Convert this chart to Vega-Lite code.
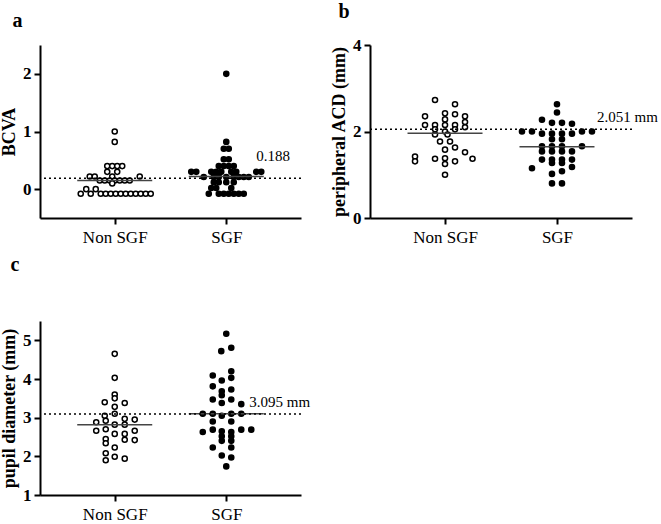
{
  "$schema": "https://vega.github.io/schema/vega-lite/v6.json",
  "padding": {"left": 0, "top": 2, "right": 0, "bottom": 0},
  "background": "white",
  "config": {
    "view": {"stroke": null},
    "font": "Liberation Serif",
    "axis": {
      "grid": false, "domainColor": "black", "domainWidth": 2, "tickColor": "black", "tickWidth": 2, "tickSize": 6,
      "labelFont": "Liberation Serif", "labelFontSize": 17, "labelColor": "black",
      "titleFont": "Liberation Serif", "titleFontSize": 18, "titleColor": "black", "titleFontWeight": "bold"
    },
    "axisX": {"labelAngle": 0, "labelPadding": 5, "title": null, "labelFontWeight": "normal"},
    "axisY": {"labelFontWeight": "bold", "labelPadding": 3, "titlePadding": 4, "format": "d"},
    "title": {"font": "Liberation Serif", "fontSize": 20, "fontWeight": "bold", "anchor": "start", "frame": "bounds", "color": "black"}
  },
  "vconcat": [
    {
      "hconcat": [
        {
          "title": {"text": "a", "dx": 12, "offset": 14},
          "width": 261, "height": 173,
          "layer": [
            {
              "data": {"values": [
                {"group": "Non SGF", "value": 1.0, "slot": 0}, {"group": "Non SGF", "value": 0.82, "slot": 0},
                {"group": "Non SGF", "value": 0.4, "slot": -1.5}, {"group": "Non SGF", "value": 0.4, "slot": -0.5}, {"group": "Non SGF", "value": 0.4, "slot": 0.5}, {"group": "Non SGF", "value": 0.4, "slot": 1.5},
                {"group": "Non SGF", "value": 0.3, "slot": -1.5}, {"group": "Non SGF", "value": 0.3, "slot": 0.5},
                {"group": "Non SGF", "value": 0.22, "slot": -5}, {"group": "Non SGF", "value": 0.22, "slot": -4}, {"group": "Non SGF", "value": 0.22, "slot": -0.5}, {"group": "Non SGF", "value": 0.22, "slot": 5},
                {"group": "Non SGF", "value": 0.15, "slot": -3}, {"group": "Non SGF", "value": 0.15, "slot": -2}, {"group": "Non SGF", "value": 0.15, "slot": -1}, {"group": "Non SGF", "value": 0.15, "slot": 0}, {"group": "Non SGF", "value": 0.15, "slot": 1}, {"group": "Non SGF", "value": 0.15, "slot": 2}, {"group": "Non SGF", "value": 0.15, "slot": 3},
                {"group": "Non SGF", "value": 0.1, "slot": -0.5},
                {"group": "Non SGF", "value": 0.0, "slot": -5.7}, {"group": "Non SGF", "value": 0.0, "slot": -3.8},
                {"group": "Non SGF", "value": -0.08, "slot": -6.8}, {"group": "Non SGF", "value": -0.08, "slot": -4.8}, {"group": "Non SGF", "value": -0.08, "slot": -2.8}, {"group": "Non SGF", "value": -0.08, "slot": -1.8}, {"group": "Non SGF", "value": -0.08, "slot": -0.8}, {"group": "Non SGF", "value": -0.08, "slot": 0.2}, {"group": "Non SGF", "value": -0.08, "slot": 1.2}, {"group": "Non SGF", "value": -0.08, "slot": 2.2}, {"group": "Non SGF", "value": -0.08, "slot": 3.2}, {"group": "Non SGF", "value": -0.08, "slot": 4.2}, {"group": "Non SGF", "value": -0.08, "slot": 5.2}, {"group": "Non SGF", "value": -0.08, "slot": 6.2}, {"group": "Non SGF", "value": -0.08, "slot": 7.2},
                {"group": "SGF", "value": 2.0, "slot": 0}, {"group": "SGF", "value": 0.82, "slot": 0},
                {"group": "SGF", "value": 0.7, "slot": -0.5}, {"group": "SGF", "value": 0.7, "slot": 0.5},
                {"group": "SGF", "value": 0.52, "slot": -0.5}, {"group": "SGF", "value": 0.52, "slot": 0.5},
                {"group": "SGF", "value": 0.4, "slot": -1.5}, {"group": "SGF", "value": 0.4, "slot": -0.5}, {"group": "SGF", "value": 0.4, "slot": 0.5}, {"group": "SGF", "value": 0.4, "slot": 1.5},
                {"group": "SGF", "value": 0.3, "slot": -7}, {"group": "SGF", "value": 0.3, "slot": -6}, {"group": "SGF", "value": 0.3, "slot": -3}, {"group": "SGF", "value": 0.3, "slot": -2}, {"group": "SGF", "value": 0.3, "slot": -1}, {"group": "SGF", "value": 0.3, "slot": 1}, {"group": "SGF", "value": 0.3, "slot": 2}, {"group": "SGF", "value": 0.3, "slot": 6}, {"group": "SGF", "value": 0.3, "slot": 7},
                {"group": "SGF", "value": 0.21, "slot": -4.5}, {"group": "SGF", "value": 0.21, "slot": -2.5}, {"group": "SGF", "value": 0.21, "slot": -1.5}, {"group": "SGF", "value": 0.21, "slot": 0}, {"group": "SGF", "value": 0.21, "slot": 1.5}, {"group": "SGF", "value": 0.21, "slot": 2.5}, {"group": "SGF", "value": 0.21, "slot": 3.5}, {"group": "SGF", "value": 0.21, "slot": 4.5},
                {"group": "SGF", "value": 0.12, "slot": -2.5}, {"group": "SGF", "value": 0.12, "slot": -1.5}, {"group": "SGF", "value": 0.12, "slot": 0}, {"group": "SGF", "value": 0.12, "slot": 1.5},
                {"group": "SGF", "value": 0.02, "slot": -3}, {"group": "SGF", "value": 0.02, "slot": -2}, {"group": "SGF", "value": 0.02, "slot": 1},
                {"group": "SGF", "value": -0.08, "slot": -3.5}, {"group": "SGF", "value": -0.08, "slot": -1.5}, {"group": "SGF", "value": -0.08, "slot": -0.5}, {"group": "SGF", "value": -0.08, "slot": 0.5}, {"group": "SGF", "value": -0.08, "slot": 1.5}, {"group": "SGF", "value": -0.08, "slot": 2.5}, {"group": "SGF", "value": -0.08, "slot": 3.5}
              ]},
              "mark": {"type": "circle", "size": 26, "stroke": "black", "strokeWidth": 1.5, "opacity": 1},
              "encoding": {
                "x": {"field": "group", "type": "nominal", "scale": {"type": "point", "domain": ["Non SGF", "SGF"], "padding": 0.67}},
                "xOffset": {"field": "slot", "type": "quantitative", "scale": {"domain": [-10, 10], "range": [-50, 50]}},
                "y": {"field": "value", "type": "quantitative", "title": "BCVA", "scale": {"domain": [-0.5, 2.5], "nice": false, "zero": false}, "axis": {"values": [0, 1, 2]}},
                "fill": {"field": "group", "type": "nominal", "scale": {"domain": ["Non SGF", "SGF"], "range": ["white", "black"]}, "legend": null}
              }
            },
            {
              "data": {"values": [{"group": "Non SGF", "median": 0.15}, {"group": "SGF", "median": 0.22}]},
              "mark": {"type": "tick", "size": 75, "thickness": 1.5, "color": "#444", "opacity": 1},
              "encoding": {"x": {"field": "group", "type": "nominal"}, "y": {"field": "median", "type": "quantitative"}}
            },
            {
              "data": {"values": [{"group": "SGF", "cut": 0.188, "label": "0.188"}]},
              "layer": [
                {"mark": {"type": "rule", "strokeDash": [2, 3], "strokeWidth": 1.5, "color": "black"}, "encoding": {"y": {"field": "cut", "type": "quantitative"}}},
                {"mark": {"type": "text", "align": "left", "baseline": "alphabetic", "dx": 30, "dy": -17, "fontSize": 15, "font": "Liberation Serif", "color": "black"},
                 "encoding": {"x": {"field": "group", "type": "nominal"}, "y": {"field": "cut", "type": "quantitative"}, "text": {"field": "label"}}}
              ]
            }
          ]
        },
        {
          "title": {"text": "b", "dx": 8, "offset": 14},
          "width": 262, "height": 173,
          "layer": [
            {
              "data": {"values": [
                {"group": "Non SGF", "value": 2.73, "slot": -2}, {"group": "Non SGF", "value": 2.63, "slot": 2},
                {"group": "Non SGF", "value": 2.42, "slot": 0}, {"group": "Non SGF", "value": 2.4, "slot": 2}, {"group": "Non SGF", "value": 2.35, "slot": -4}, {"group": "Non SGF", "value": 2.35, "slot": 4},
                {"group": "Non SGF", "value": 2.28, "slot": 0}, {"group": "Non SGF", "value": 2.22, "slot": 4},
                {"group": "Non SGF", "value": 2.15, "slot": -4}, {"group": "Non SGF", "value": 2.15, "slot": -2}, {"group": "Non SGF", "value": 2.15, "slot": 0}, {"group": "Non SGF", "value": 2.15, "slot": 2}, {"group": "Non SGF", "value": 2.1, "slot": 4},
                {"group": "Non SGF", "value": 2.05, "slot": -2}, {"group": "Non SGF", "value": 2.05, "slot": 2}, {"group": "Non SGF", "value": 2.0, "slot": 0},
                {"group": "Non SGF", "value": 1.93, "slot": -2}, {"group": "Non SGF", "value": 1.93, "slot": 0.5},
                {"group": "Non SGF", "value": 1.77, "slot": -1}, {"group": "Non SGF", "value": 1.77, "slot": 1},
                {"group": "Non SGF", "value": 1.63, "slot": 2}, {"group": "Non SGF", "value": 1.58, "slot": 0}, {"group": "Non SGF", "value": 1.52, "slot": 4},
                {"group": "Non SGF", "value": 1.42, "slot": -6}, {"group": "Non SGF", "value": 1.31, "slot": -6},
                {"group": "Non SGF", "value": 1.37, "slot": -2}, {"group": "Non SGF", "value": 1.38, "slot": 0}, {"group": "Non SGF", "value": 1.31, "slot": 2}, {"group": "Non SGF", "value": 1.37, "slot": 5.5},
                {"group": "Non SGF", "value": 1.25, "slot": 0}, {"group": "Non SGF", "value": 1.0, "slot": 0},
                {"group": "SGF", "value": 2.63, "slot": 0}, {"group": "SGF", "value": 2.44, "slot": 0}, {"group": "SGF", "value": 2.27, "slot": -3},
                {"group": "SGF", "value": 2.2, "slot": -1}, {"group": "SGF", "value": 2.2, "slot": 1}, {"group": "SGF", "value": 2.18, "slot": 3},
                {"group": "SGF", "value": 2.0, "slot": -7}, {"group": "SGF", "value": 2.0, "slot": -5}, {"group": "SGF", "value": 2.0, "slot": 5}, {"group": "SGF", "value": 2.0, "slot": 7},
                {"group": "SGF", "value": 1.95, "slot": -3}, {"group": "SGF", "value": 1.95, "slot": -1}, {"group": "SGF", "value": 1.95, "slot": 1}, {"group": "SGF", "value": 1.95, "slot": 3},
                {"group": "SGF", "value": 1.82, "slot": -1}, {"group": "SGF", "value": 1.82, "slot": 1},
                {"group": "SGF", "value": 1.66, "slot": -3}, {"group": "SGF", "value": 1.66, "slot": -1}, {"group": "SGF", "value": 1.66, "slot": 1}, {"group": "SGF", "value": 1.66, "slot": 5},
                {"group": "SGF", "value": 1.54, "slot": -3}, {"group": "SGF", "value": 1.54, "slot": -1}, {"group": "SGF", "value": 1.54, "slot": 1}, {"group": "SGF", "value": 1.54, "slot": 3},
                {"group": "SGF", "value": 1.35, "slot": -3}, {"group": "SGF", "value": 1.35, "slot": -1}, {"group": "SGF", "value": 1.35, "slot": 1}, {"group": "SGF", "value": 1.35, "slot": 3},
                {"group": "SGF", "value": 1.27, "slot": -1}, {"group": "SGF", "value": 1.27, "slot": 1},
                {"group": "SGF", "value": 1.15, "slot": -5}, {"group": "SGF", "value": 1.18, "slot": 3},
                {"group": "SGF", "value": 1.02, "slot": -1}, {"group": "SGF", "value": 1.08, "slot": 1},
                {"group": "SGF", "value": 0.8, "slot": -1}, {"group": "SGF", "value": 0.8, "slot": 1}
              ]},
              "mark": {"type": "circle", "size": 26, "stroke": "black", "strokeWidth": 1.5, "opacity": 1},
              "encoding": {
                "x": {"field": "group", "type": "nominal", "scale": {"type": "point", "domain": ["Non SGF", "SGF"], "padding": 0.67}},
                "xOffset": {"field": "slot", "type": "quantitative", "scale": {"domain": [-10, 10], "range": [-50, 50]}},
                "y": {"field": "value", "type": "quantitative", "title": "peripheral ACD (mm)", "scale": {"domain": [0, 4], "nice": false}, "axis": {"values": [0, 2, 4]}},
                "fill": {"field": "group", "type": "nominal", "scale": {"domain": ["Non SGF", "SGF"], "range": ["white", "black"]}, "legend": null}
              }
            },
            {
              "data": {"values": [{"group": "Non SGF", "median": 1.96}, {"group": "SGF", "median": 1.65}]},
              "mark": {"type": "tick", "size": 75, "thickness": 1.5, "color": "#444", "opacity": 1},
              "encoding": {"x": {"field": "group", "type": "nominal"}, "y": {"field": "median", "type": "quantitative"}}
            },
            {
              "data": {"values": [{"group": "SGF", "cut": 2.051, "label": "2.051 mm"}]},
              "layer": [
                {"mark": {"type": "rule", "strokeDash": [2, 3], "strokeWidth": 1.5, "color": "black"}, "encoding": {"y": {"field": "cut", "type": "quantitative"}}},
                {"mark": {"type": "text", "align": "left", "baseline": "alphabetic", "dx": 40, "dy": -7, "fontSize": 15, "font": "Liberation Serif", "color": "black"},
                 "encoding": {"x": {"field": "group", "type": "nominal"}, "y": {"field": "cut", "type": "quantitative"}, "text": {"field": "label"}}}
              ]
            }
          ]
        }
      ],
      "spacing": 28
    },
    {
      "title": {"text": "c", "dx": 10, "offset": 46},
      "width": 261, "height": 174,
      "layer": [
        {
          "data": {"values": [
            {"group": "Non SGF", "value": 4.65, "slot": 0}, {"group": "Non SGF", "value": 4.03, "slot": 0},
            {"group": "Non SGF", "value": 3.6, "slot": 0}, {"group": "Non SGF", "value": 3.5, "slot": 0},
            {"group": "Non SGF", "value": 3.4, "slot": -2}, {"group": "Non SGF", "value": 3.38, "slot": 2}, {"group": "Non SGF", "value": 3.28, "slot": 0},
            {"group": "Non SGF", "value": 3.1, "slot": 0}, {"group": "Non SGF", "value": 3.05, "slot": -2},
            {"group": "Non SGF", "value": 2.97, "slot": 2}, {"group": "Non SGF", "value": 2.95, "slot": 4},
            {"group": "Non SGF", "value": 2.88, "slot": -3.7}, {"group": "Non SGF", "value": 2.92, "slot": -1.8},
            {"group": "Non SGF", "value": 2.82, "slot": 0}, {"group": "Non SGF", "value": 2.82, "slot": 2},
            {"group": "Non SGF", "value": 2.66, "slot": -3.7}, {"group": "Non SGF", "value": 2.7, "slot": -1.8}, {"group": "Non SGF", "value": 2.66, "slot": 4},
            {"group": "Non SGF", "value": 2.58, "slot": 0}, {"group": "Non SGF", "value": 2.58, "slot": 2},
            {"group": "Non SGF", "value": 2.45, "slot": -1.8}, {"group": "Non SGF", "value": 2.43, "slot": 2}, {"group": "Non SGF", "value": 2.42, "slot": 4},
            {"group": "Non SGF", "value": 2.34, "slot": -1.8}, {"group": "Non SGF", "value": 2.23, "slot": 0},
            {"group": "Non SGF", "value": 2.08, "slot": -1.8}, {"group": "Non SGF", "value": 1.99, "slot": 0}, {"group": "Non SGF", "value": 1.94, "slot": 2}, {"group": "Non SGF", "value": 1.9, "slot": -1.8},
            {"group": "SGF", "value": 5.17, "slot": 0}, {"group": "SGF", "value": 4.81, "slot": 1}, {"group": "SGF", "value": 4.72, "slot": -1},
            {"group": "SGF", "value": 4.2, "slot": 1}, {"group": "SGF", "value": 4.09, "slot": -2.7}, {"group": "SGF", "value": 4.03, "slot": 1}, {"group": "SGF", "value": 3.96, "slot": -0.9},
            {"group": "SGF", "value": 3.81, "slot": -2.7}, {"group": "SGF", "value": 3.73, "slot": 1}, {"group": "SGF", "value": 3.68, "slot": -0.9}, {"group": "SGF", "value": 3.58, "slot": -0.9},
            {"group": "SGF", "value": 3.47, "slot": -2.7}, {"group": "SGF", "value": 3.47, "slot": 1}, {"group": "SGF", "value": 3.38, "slot": -0.9}, {"group": "SGF", "value": 3.35, "slot": 3},
            {"group": "SGF", "value": 3.1, "slot": -4.7}, {"group": "SGF", "value": 3.1, "slot": -2.7}, {"group": "SGF", "value": 3.05, "slot": -0.9}, {"group": "SGF", "value": 3.1, "slot": 1}, {"group": "SGF", "value": 3.1, "slot": 3},
            {"group": "SGF", "value": 2.9, "slot": -2.7}, {"group": "SGF", "value": 2.9, "slot": 1},
            {"group": "SGF", "value": 2.69, "slot": -2.7}, {"group": "SGF", "value": 2.69, "slot": 3}, {"group": "SGF", "value": 2.69, "slot": 5},
            {"group": "SGF", "value": 2.63, "slot": -4.7}, {"group": "SGF", "value": 2.65, "slot": -0.9}, {"group": "SGF", "value": 2.63, "slot": 1},
            {"group": "SGF", "value": 2.52, "slot": -0.9}, {"group": "SGF", "value": 2.52, "slot": 1},
            {"group": "SGF", "value": 2.4, "slot": -0.9}, {"group": "SGF", "value": 2.4, "slot": 1},
            {"group": "SGF", "value": 2.23, "slot": -2.7}, {"group": "SGF", "value": 2.23, "slot": 1},
            {"group": "SGF", "value": 2.02, "slot": -0.9}, {"group": "SGF", "value": 1.97, "slot": 1}, {"group": "SGF", "value": 1.74, "slot": 0}
          ]},
          "mark": {"type": "circle", "size": 26, "stroke": "black", "strokeWidth": 1.5, "opacity": 1},
          "encoding": {
            "x": {"field": "group", "type": "nominal", "scale": {"type": "point", "domain": ["Non SGF", "SGF"], "padding": 0.67}},
            "xOffset": {"field": "slot", "type": "quantitative", "scale": {"domain": [-10, 10], "range": [-50, 50]}},
            "y": {"field": "value", "type": "quantitative", "title": "pupil diameter (mm)", "scale": {"domain": [1, 5.5], "nice": false, "zero": false}, "axis": {"values": [1, 2, 3, 4, 5]}},
            "fill": {"field": "group", "type": "nominal", "scale": {"domain": ["Non SGF", "SGF"], "range": ["white", "black"]}, "legend": null}
          }
        },
        {
          "data": {"values": [{"group": "Non SGF", "median": 2.82}, {"group": "SGF", "median": 3.1}]},
          "mark": {"type": "tick", "size": 75, "thickness": 1.5, "color": "#444", "opacity": 1},
          "encoding": {"x": {"field": "group", "type": "nominal"}, "y": {"field": "median", "type": "quantitative"}}
        },
        {
          "data": {"values": [{"group": "SGF", "cut": 3.095, "label": "3.095 mm"}]},
          "layer": [
            {"mark": {"type": "rule", "strokeDash": [2, 3], "strokeWidth": 1.5, "color": "black"}, "encoding": {"y": {"field": "cut", "type": "quantitative"}}},
            {"mark": {"type": "text", "align": "left", "baseline": "alphabetic", "dx": 23, "dy": -7, "fontSize": 15, "font": "Liberation Serif", "color": "black"},
             "encoding": {"x": {"field": "group", "type": "nominal"}, "y": {"field": "cut", "type": "quantitative"}, "text": {"field": "label"}}}
          ]
        }
      ]
    }
  ],
  "spacing": 10
}
